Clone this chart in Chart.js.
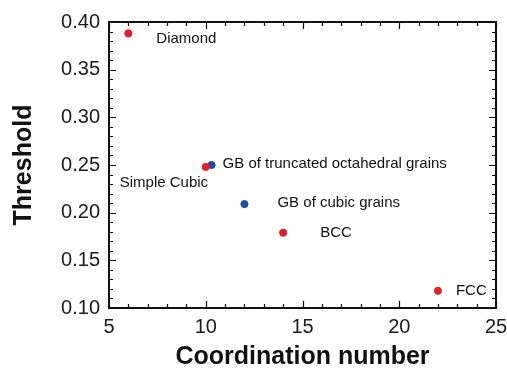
<!DOCTYPE html>
<html>
  <head>
    <meta charset="utf-8" />
    <title>Threshold vs coordination number</title>
    <script src="https://cdn.jsdelivr.net/npm/chart.js"></script>
    <style>
      html, body { margin: 0; padding: 0; background: #fff; }
      #wrap { position: relative; width: 507px; height: 372px; }
    </style>
  </head>
  <body>
    <div id="wrap"><canvas id="chart"></canvas></div>
    <script type="text/javascript">
      // lattice points (red)
      var latticeNames = ['Diamond', 'Simple Cubic', 'BCC', 'FCC']
      var latticeX = [6, 10, 14, 22]
      var latticeY = [0.388, 0.248, 0.179, 0.118]

      // grain boundary networks (blue)
      var grainNames = ['GB of truncated octahedral grains', 'GB of cubic grains']
      var grainX = [10.3, 12]
      var grainY = [0.250, 0.209]

      var xTicks = [5, 10, 15, 20, 25]
      var yTicks = [0.10, 0.15, 0.20, 0.25, 0.30, 0.35, 0.40]

      function pts(xs, ys) {
        return xs.map(function (x, i) { return { x: x, y: ys[i] } })
      }

      // where each annotation sits relative to its point (px)
      var labelOffsets = {
        'Diamond': [28, 5],
        'Simple Cubic': [-86, 16],
        'BCC': [37, 0],
        'FCC': [18, 0],
        'GB of truncated octahedral grains': [11, -1],
        'GB of cubic grains': [33, -1]
      }

      var FONT = '"Liberation Sans", Arial, sans-serif'

      var frame = {
        id: 'frame',
        afterDatasetsDraw: function (chart) {
          var ctx = chart.ctx
          var a = chart.chartArea
          var xs = chart.scales.x, ys = chart.scales.y
          ctx.save()
          ctx.strokeStyle = '#111'
          ctx.lineWidth = 1.2
          ctx.beginPath()
          // minor + major ticks, x axis (bottom and top)
          for (var v = xs.min; v <= xs.max + 1e-9; v += 1) {
            var px = Math.round(xs.getPixelForValue(v)) + 0.5
            var len = (Math.abs(v % 5) < 1e-9) ? 7 : 4
            ctx.moveTo(px, a.bottom); ctx.lineTo(px, a.bottom - len)
            ctx.moveTo(px, a.top); ctx.lineTo(px, a.top + len)
          }
          // y axis (left and right)
          for (var k = 0; k <= 30; k++) {
            var val = ys.min + k * 0.01
            var py = Math.round(ys.getPixelForValue(val)) + 0.5
            var l = (k % 5 === 0) ? 7 : 4
            ctx.moveTo(a.left, py); ctx.lineTo(a.left + l, py)
            ctx.moveTo(a.right, py); ctx.lineTo(a.right - l, py)
          }
          ctx.stroke()
          ctx.lineWidth = 2
          ctx.strokeRect(a.left, a.top, a.right - a.left, a.bottom - a.top)

          // annotations
          ctx.fillStyle = '#111'
          ctx.font = '15px ' + FONT
          ctx.textBaseline = 'middle'
          ctx.textAlign = 'left'
          chart.data.datasets.forEach(function (ds, di) {
            var meta = chart.getDatasetMeta(di)
            ds.names.forEach(function (name, i) {
              var el = meta.data[i]
              var off = labelOffsets[name]
              ctx.fillText(name, el.x + off[0], el.y + off[1])
            })
          })
          ctx.restore()
        }
      }

      var ctx = document.getElementById('chart').getContext('2d')
      new Chart(ctx, {
        type: 'scatter',
        data: {
          datasets: [{
            label: 'Lattice',
            names: latticeNames,
            data: pts(latticeX, latticeY),
            backgroundColor: '#e0202a',
            borderColor: '#e0202a',
            pointRadius: 3.6,
            pointHoverRadius: 3.6
          }, {
            label: 'Grain boundaries',
            names: grainNames,
            data: pts(grainX, grainY),
            backgroundColor: '#1f4aa0',
            borderColor: '#1f4aa0',
            pointRadius: 3.6,
            pointHoverRadius: 3.6
          }]
        },
        options: {
          responsive: true,
          maintainAspectRatio: false,
          animation: false,
          layout: { padding: { top: 22, right: 11, left: 9, bottom: 0 } },
          plugins: {
            legend: { display: false },
            tooltip: { enabled: false }
          },
          scales: {
            x: {
              type: 'linear',
              min: 5,
              max: 25,
              afterBuildTicks: function (s) { s.ticks = xTicks.map(function (v) { return { value: v } }) },
              afterFit: function (s) { s.height = 64; s.paddingLeft = 0; s.paddingRight = 0 },
              grid: { display: false, drawTicks: false },
              border: { display: false },
              ticks: {
                color: '#1a1a1a',
                padding: 7,
                maxRotation: 0,
                font: { family: FONT, size: 20 }
              },
              title: {
                display: true,
                text: 'Coordination number',
                color: '#111',
                padding: { top: 0, bottom: 0 },
                font: { family: FONT, size: 25, weight: 'bold' }
              }
            },
            y: {
              type: 'linear',
              min: 0.10,
              max: 0.40,
              afterBuildTicks: function (s) { s.ticks = yTicks.map(function (v) { return { value: v } }) },
              afterFit: function (s) { s.width = 100; s.paddingTop = 0; s.paddingBottom = 0 },
              grid: { display: false, drawTicks: false },
              border: { display: false },
              ticks: {
                color: '#1a1a1a',
                padding: 9,
                font: { family: FONT, size: 20 },
                callback: function (v) { return Number(v).toFixed(2) }
              },
              title: {
                display: true,
                text: 'Threshold',
                color: '#111',
                padding: { top: 0, bottom: 0 },
                font: { family: FONT, size: 25, weight: 'bold' }
              }
            }
          }
        },
        plugins: [frame]
      })
    </script>
  </body>
</html>
